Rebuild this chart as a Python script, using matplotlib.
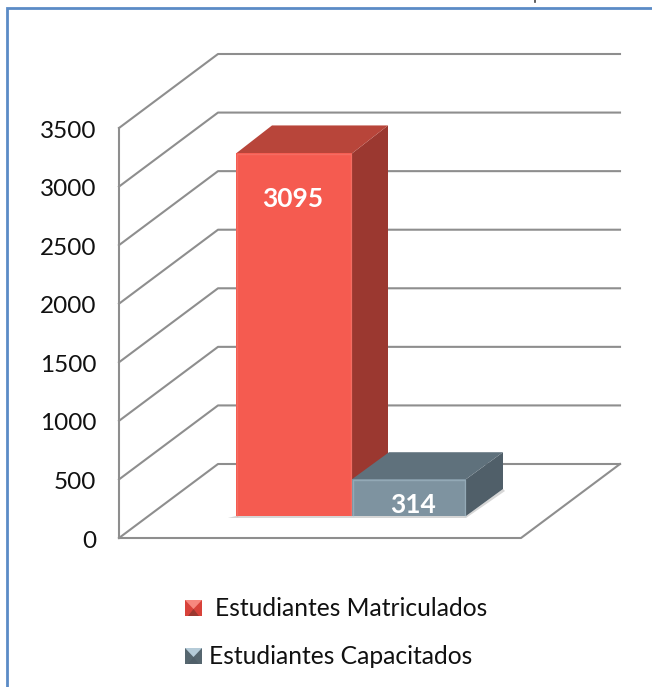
import matplotlib
matplotlib.use("Agg")
import matplotlib.pyplot as plt
from matplotlib.patches import Polygon
from matplotlib.transforms import ScaledTranslation

plt.rcParams["font.family"] = ["Lato", "DejaVu Sans"]

categories = ["Estudiantes Matriculados", "Estudiantes Capacitados"]
values = [3095, 314]
y_ticks = [0, 500, 1000, 1500, 2000, 2500, 3000, 3500]

W, H = 652, 687
front_c = ["#F55B50", "#7E93A0"]
top_c = ["#B8453A", "#5F717C"]
side_c = ["#9B3830", "#505F69"]
light_c = ["#F7877E", "#B5CBD8"]
dark_c = ["#D8423A", "#56666F"]
grid_c = "#8E8E8E"

fig = plt.figure(figsize=(W / 100, H / 100), dpi=100, facecolor="white")

# overlay in pixel coords for the frame and the legend
bg = fig.add_axes([0, 0, 1, 1])
bg.set_xlim(0, W)
bg.set_ylim(H, 0)
bg.axis("off")
bg.plot([7, 7, W], [H, 8, 8], color="#5B8BC6", lw=2, solid_joinstyle="miter")
bg.plot([535, 535], [0, 2], color="#444444", lw=1.2)

# main axes: x in pixels from the left wall, y in chart values
x0, x1, y0, y3500 = 119, 521, 538, 128
ax = fig.add_axes([x0 / W, 1 - y0 / H, (x1 - x0) / W, (y0 - y3500) / H])
ax.patch.set_alpha(0)
ax.set_xlim(0, x1 - x0)
ax.set_ylim(0, 3500)
px = 3500 / (y0 - y3500)  # chart units per pixel

wall_dx, wall_dy = 99, 74 * px
ax.set_xticks([])
ax.set_yticks(y_ticks)
ax.tick_params(axis="y", length=0, pad=16.5, labelsize=17.5, labelcolor="#111111")
for tick in ax.yaxis.get_major_ticks():
    tick.label1.set_transform(tick.label1.get_transform() + ScaledTranslation(0, -1 / 100, fig.dpi_scale_trans))
for s in ["top", "right", "bottom"]:
    ax.spines[s].set_visible(False)
ax.spines["left"].set_color(grid_c)
ax.spines["left"].set_linewidth(1.5)

for t in y_ticks:
    ax.plot([0, wall_dx, x1 - x0 + wall_dx], [t, t + wall_dy, t + wall_dy],
            color=grid_c, lw=1.5, clip_on=False, zorder=1)
ax.plot([0, x1 - x0, x1 - x0 + wall_dx], [0, 0, wall_dy],
        color=grid_c, lw=1.5, clip_on=False, zorder=1)

# bars
bar_x = [117, 233]
bar_w = [116, 114]
base = 22 * px
depth = [(36, 28 * px), (37, 27 * px)]
label_x = [174, 294]
label_y = [2890, 285]


def poly(pts, color, z, **kw):
    ax.add_patch(Polygon(pts, closed=True, facecolor=color, edgecolor="none",
                         clip_on=False, zorder=z, **kw))


for i, v in enumerate(values):
    l, r = bar_x[i], bar_x[i] + bar_w[i]
    b, t = base, base + v
    dx, dy = depth[i]
    z = 3 + i
    # soft shadow on the floor
    poly([(l - 8, b - 2 * px), (r, b - 2 * px), (r + dx + 2, b + dy - 2 * px),
          (r + dx, b + dy), (r, b), (l, b)], "#D6D6D6", z - 0.5 if i else 2)
    poly([(r, b), (r + dx, b + dy), (r + dx, t + dy), (r, t)], side_c[i], z)
    poly([(l, t), (r, t), (r + dx, t + dy), (l + dx, t + dy)], top_c[i], z)
    poly([(l, b), (r, b), (r, t), (l, t)], front_c[i], z + 0.1)
    # bevel highlights along the edges
    ax.plot([l + 1, l + 1, r - 1, r - 1], [b, t - 1 * px, t - 1 * px, b],
            color=light_c[i], lw=1, alpha=0.4, clip_on=False, zorder=z + 0.2)
    ax.text(label_x[i], label_y[i], str(v), color="white", fontsize=19,
            fontweight="bold", ha="center", va="center", zorder=z + 0.3)

# legend
legend_y = [608, 656]
legend_tx = [215, 209]
for i, name in enumerate(categories):
    ly = legend_y[i]
    a, c, s = 185, 202, 8
    bg.add_patch(Polygon([(a, ly - s), (c, ly - s), (c, ly + s), (a, ly + s)], facecolor=dark_c[i]))
    bg.add_patch(Polygon([(a, ly - s), (c, ly - s), ((a + c) / 2, ly + 1)], facecolor=light_c[i]))
    bg.add_patch(Polygon([((a + c) / 2, ly + 1), (a + 3, ly + s), (c - 3, ly + s)], facecolor=side_c[i]))
    bg.text(legend_tx[i], ly + 0.5, name, fontsize=17.7, color="#111111", ha="left", va="center")

fig.savefig("out.png", dpi=100, facecolor="white")
